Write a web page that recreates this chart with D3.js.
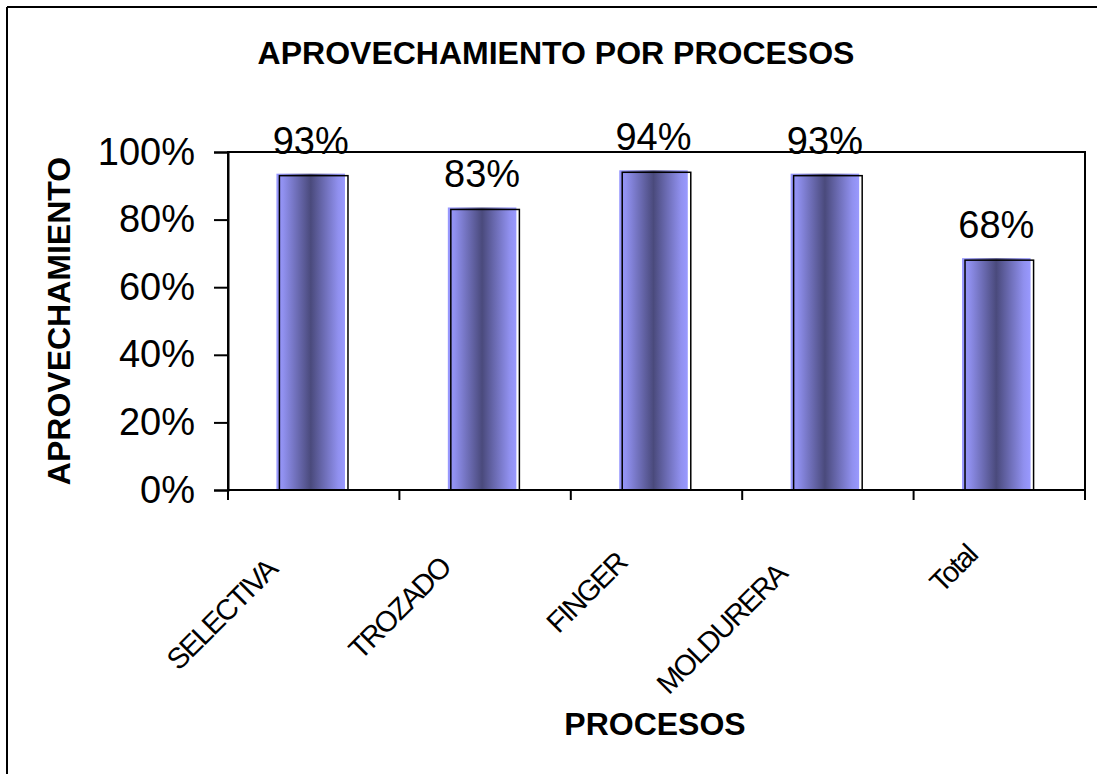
<!DOCTYPE html>
<html>
<head>
<meta charset="utf-8">
<script src="https://cdn.jsdelivr.net/npm/d3@7"></script>
<style>
  html, body { margin: 0; padding: 0; background: #fff; overflow: hidden; }
  svg { display: block; }
  text { font-family: "Liberation Sans", Arial, sans-serif; fill: #000; }
</style>
</head>
<body>
<svg id="chart" width="1097" height="774"></svg>
<script>
const categories = ["SELECTIVA", "TROZADO", "FINGER", "MOLDURERA", "Total"];
const values = [0.93, 0.83, 0.94, 0.93, 0.68];
const valueLabels = ["93%", "83%", "94%", "93%", "68%"];
const yTicks = [0, 0.2, 0.4, 0.6, 0.8, 1.0];
const title = "APROVECHAMIENTO POR PROCESOS";
const yTitle = "APROVECHAMIENTO";
const xTitle = "PROCESOS";

const svg = d3.select("#chart");
const plot = { left: 228, right: 1085, top: 152, bottom: 490 };

// outer frame: only left and top edges fall inside the picture
const frame = svg.append("g");
frame.append("line").attr("x1", 7).attr("x2", 1097).attr("y1", 7).attr("y2", 7)
  .attr("stroke", "#000").attr("stroke-width", 2);
frame.append("line").attr("x1", 7).attr("x2", 7).attr("y1", 7).attr("y2", 774)
  .attr("stroke", "#000").attr("stroke-width", 2);

const defs = svg.append("defs");
const grad = defs.append("linearGradient").attr("id", "barGrad")
  .attr("x1", "0").attr("x2", "1").attr("y1", "0").attr("y2", "0");
grad.append("stop").attr("offset", "0").attr("stop-color", "#9999ff");
grad.append("stop").attr("offset", "0.1").attr("stop-color", "#9090ef");
grad.append("stop").attr("offset", "0.5").attr("stop-color", "#4a4a7c");
grad.append("stop").attr("offset", "0.9").attr("stop-color", "#9090ef");
grad.append("stop").attr("offset", "1").attr("stop-color", "#9999ff");

const x = d3.scaleBand().domain(categories).range([plot.left, plot.right])
  .paddingInner(0.6).paddingOuter(0.3);
const y = d3.scaleLinear().domain([0, 1]).range([plot.bottom, plot.top]);
const step = x.step();

// plot border
svg.append("rect").attr("x", plot.left).attr("y", plot.top)
  .attr("width", plot.right - plot.left).attr("height", plot.bottom - plot.top)
  .attr("fill", "none").attr("stroke", "#000").attr("stroke-width", 2);

// y axis
const yAxis = d3.axisLeft(y).tickValues(yTicks).tickSize(14).tickPadding(19)
  .tickFormat(d3.format(".0%"));
const gy = svg.append("g").attr("transform", `translate(${plot.left},0)`).call(yAxis);
gy.select(".domain").attr("stroke", "#000").attr("stroke-width", 2);
gy.selectAll(".tick line").attr("stroke", "#000").attr("stroke-width", 2);
gy.selectAll(".tick text").style("font-size", "38px")
  .style("font-family", "'Liberation Sans', Arial, sans-serif").attr("fill", "#000");

// x ticks at band boundaries
const boundaries = categories.map(c => x(c) + x.bandwidth() / 2 - step / 2).concat([plot.right]);
svg.append("g").selectAll("line").data(boundaries).join("line")
  .attr("x1", d => d).attr("x2", d => d)
  .attr("y1", plot.bottom).attr("y2", plot.bottom + 10)
  .attr("stroke", "#000").attr("stroke-width", 2);

// bars
const bars = svg.append("g");
categories.forEach((c, i) => {
  const bx = x(c), bw = x.bandwidth(), top = y(values[i]);
  bars.append("rect").attr("x", bx - 3).attr("y", top - 2)
    .attr("width", bw).attr("height", plot.bottom - 1 - (top - 2))
    .attr("fill", "url(#barGrad)");
  bars.append("rect").attr("x", bx).attr("y", top)
    .attr("width", bw).attr("height", plot.bottom - top)
    .attr("fill", "none").attr("stroke", "#000").attr("stroke-width", 1.5);
  svg.append("text").attr("x", bx - 3 + bw / 2).attr("y", top - 22)
    .attr("text-anchor", "middle").style("font-size", "38px").text(valueLabels[i]);
});

// category labels rotated
categories.forEach(c => {
  const cx = x(c) + x.bandwidth() / 2;
  const g = svg.append("g").attr("transform", `translate(${cx},${plot.bottom}) rotate(-45)`);
  const t = g.append("text").attr("text-anchor", "end").attr("y", 33)
    .style("font-size", "29px").style("letter-spacing", "-1.8px").text(c);
  const L = t.node().getComputedTextLength();
  t.attr("x", -50 - 0.23 * L);
});

// titles
svg.append("text").attr("x", 556).attr("y", 64).attr("text-anchor", "middle")
  .style("font-size", "32px").style("font-weight", "bold").text(title);
svg.append("text").attr("transform", `translate(70,${(plot.top + plot.bottom) / 2}) rotate(-90)`)
  .attr("text-anchor", "middle").style("font-size", "32px").style("font-weight", "bold").text(yTitle);
svg.append("text").attr("x", 655).attr("y", 735).attr("text-anchor", "middle")
  .style("font-size", "32px").style("font-weight", "bold").text(xTitle);
</script>
</body>
</html>
